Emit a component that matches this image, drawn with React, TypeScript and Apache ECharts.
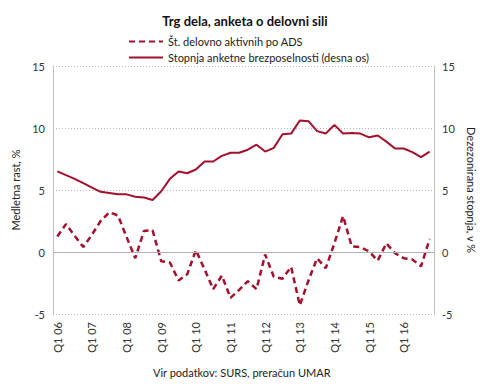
import React, { useEffect, useRef } from "react";
import * as echarts from "echarts";

const years = ["06", "07", "08", "09", "10", "11", "12", "13", "14", "15", "16"];
const categories: string[] = [];
years.forEach((y) => {
  for (let q = 1; q <= 4; q++) categories.push(`Q${q} ${y}`);
});

const employed = [
  1.25, 2.25, 1.3, 0.4, 1.4, 2.5, 3.2, 2.95, 1.2, -0.5, 1.7, 1.75,
  -0.75, -0.85, -2.3, -1.8, 0.15, -1.4, -3.0, -1.9, -3.7, -3.05, -2.35, -3.0,
  -0.2, -2.0, -2.15, -1.2, -4.3, -2.3, -0.5, -1.3, 0.7, 2.9, 0.45, 0.4,
  0.05, -0.7, 0.7, -0.1, -0.5, -0.6, -1.15, 1.05,
];

const unemployment = [
  6.5, 6.2, 5.9, 5.55, 5.2, 4.85, 4.75, 4.65, 4.65, 4.45, 4.4, 4.2,
  4.9, 5.9, 6.5, 6.35, 6.65, 7.3, 7.3, 7.75, 8.0, 8.0, 8.25, 8.65,
  8.1, 8.4, 9.5, 9.55, 10.6, 10.55, 9.75, 9.55, 10.25, 9.55, 9.6, 9.55,
  9.25, 9.4, 8.9, 8.35, 8.35, 8.05, 7.65, 8.1,
];

const seriesNames = [
  "Št. delovno aktivnih po ADS",
  "Stopnja anketne brezposelnosti (desna os)",
];

const FONT = "Lato, 'Open Sans', sans-serif";
const RED = "#A3102C";

export default function App() {
  const ref = useRef<HTMLDivElement>(null);
  useEffect(() => {
    if (!ref.current) return;
    const chart = echarts.init(ref.current, undefined, { renderer: "svg" });
    const yAxisCommon = {
      type: "value" as const,
      min: -5,
      max: 15,
      interval: 5,
      nameLocation: "middle" as const,
      nameTextStyle: { fontFamily: FONT, fontSize: 11, color: "#222" },
      axisLine: { show: true, lineStyle: { color: "#c0c0c0", width: 1 } },
      axisTick: { show: false },
      axisLabel: { fontFamily: FONT, fontSize: 11, color: "#333" },
      splitLine: { show: true, lineStyle: { color: "#b8b8b8", type: [1, 2] as any, width: 1 } },
    };
    chart.setOption({
      animation: false,
      textStyle: { fontFamily: FONT },
      title: {
        text: "Trg dela, anketa o delovni sili",
        left: "center",
        top: 9,
        textStyle: { fontFamily: FONT, fontSize: 13, fontWeight: "bold", color: "#111" },
      },
      legend: {
        orient: "vertical",
        left: 123,
        top: 31,
        itemWidth: 34,
        itemHeight: 10,
        itemGap: 5,
        itemStyle: { opacity: 0 },
        textStyle: { fontFamily: FONT, fontSize: 11, color: "#222" },
        data: seriesNames,
      },
      grid: { left: 53, right: 56, top: 66, bottom: 77 },
      xAxis: {
        type: "category",
        data: categories,
        boundaryGap: true,
        axisLine: { show: false },
        axisTick: { show: false },
        axisLabel: {
          rotate: 90,
          interval: 3,
          margin: 8,
          fontFamily: FONT,
          fontSize: 11,
          color: "#333",
        },
        splitLine: { show: false },
      },
      yAxis: [
        { ...yAxisCommon, position: "left", name: "Medletna rast, %", nameGap: 32 },
        { ...yAxisCommon, position: "right", name: "Dezezonirana stopnja, v %", nameGap: 30, nameRotate: -90 },
      ],
      series: [
        {
          name: seriesNames[0],
          type: "line",
          yAxisIndex: 0,
          data: employed,
          symbol: "none",
          lineStyle: { color: RED, width: 2.5, type: [6, 4] as any },
          itemStyle: { color: RED },
          markLine: {
            silent: true,
            symbol: "none",
            label: { show: false },
            lineStyle: { color: "#b0b0b0", type: "solid", width: 1.2 },
            data: [{ yAxis: 0 }],
          },
          z: 3,
        },
        {
          name: seriesNames[1],
          type: "line",
          yAxisIndex: 1,
          data: unemployment,
          symbol: "none",
          lineStyle: { color: RED, width: 2 },
          itemStyle: { color: RED },
          z: 3,
        },
      ],
      graphic: [
        {
          type: "text",
          left: 153,
          top: 367,
          style: {
            text: "Vir podatkov: SURS, preračun UMAR",
            fontFamily: FONT,
            fontSize: 11,
            fill: "#222",
          },
        },
      ],
    });
    return () => chart.dispose();
  }, []);
  return (
    <div
      ref={ref}
      style={{ position: "absolute", left: 0, top: 0, width: 490, height: 391 }}
    />
  );
}
